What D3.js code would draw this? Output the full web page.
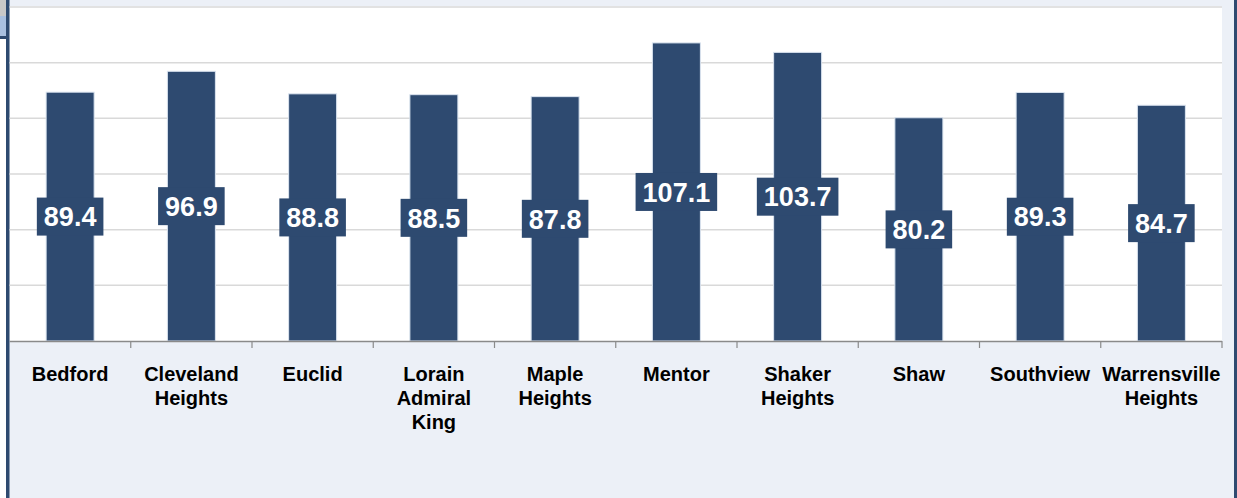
<!DOCTYPE html>
<html>
<head>
<meta charset="utf-8">
<script src="https://cdn.jsdelivr.net/npm/d3@7"></script>
<style>
  body { margin: 0; background: #ecf0f7; }
  svg { display: block; font-family: "Liberation Sans", Arial, sans-serif; }
</style>
</head>
<body>
<div id="chart"></div>
<script>
const categories = [
  ["Bedford"],
  ["Cleveland", "Heights"],
  ["Euclid"],
  ["Lorain", "Admiral", "King"],
  ["Maple", "Heights"],
  ["Mentor"],
  ["Shaker", "Heights"],
  ["Shaw"],
  ["Southview"],
  ["Warrensville", "Heights"]
];
const values = [89.4, 96.9, 88.8, 88.5, 87.8, 107.1, 103.7, 80.2, 89.3, 84.7];
const gridTicks = [0, 20, 40, 60, 80, 100, 120];

const W = 1237, H = 498;
const PLOT = { LEFT: 9.5, RIGHT: 1222, TOP: 7, BOTTOM: 341 };

const svg = d3.select("#chart").append("svg")
  .attr("width", W)
  .attr("height", H);

// outer background
svg.append("rect").attr("width", W).attr("height", H).attr("fill", "#ecf0f7");

// white plot area
svg.append("rect")
  .attr("x", PLOT.LEFT)
  .attr("y", PLOT.TOP - 1)
  .attr("width", PLOT.RIGHT - PLOT.LEFT)
  .attr("height", PLOT.BOTTOM - PLOT.TOP + 1)
  .attr("fill", "#ffffff");

// window chrome bits on the edges
svg.append("rect").attr("x", 0).attr("y", 0).attr("width", 7).attr("height", 16).attr("fill", "#c8c8c8");
svg.append("rect").attr("x", 0).attr("y", 16).attr("width", 7).attr("height", 20).attr("fill", "#a9c0e0");
svg.append("rect").attr("x", 0).attr("y", 36).attr("width", 7).attr("height", 3).attr("fill", "#2e4a70");
svg.append("rect").attr("x", 0).attr("y", 39).attr("width", 6).attr("height", H - 39).attr("fill", "#ffffff");
svg.append("rect").attr("x", 6).attr("y", 0).attr("width", 3.5).attr("height", H).attr("fill", "#2e4a70");
svg.append("rect").attr("x", 1234).attr("y", 0).attr("width", 3).attr("height", H).attr("fill", "#2e4a70");

const xCat = d3.scaleBand()
  .domain(d3.range(categories.length))
  .range([PLOT.LEFT, PLOT.RIGHT]);

const y = d3.scaleLinear()
  .domain([0, 120])
  .range([PLOT.BOTTOM, PLOT.TOP]);

// gridlines
svg.append("g")
  .selectAll("line")
  .data(gridTicks.slice(1))
  .enter()
  .append("line")
  .attr("x1", PLOT.LEFT)
  .attr("x2", PLOT.RIGHT)
  .attr("y1", d => y(d))
  .attr("y2", d => y(d))
  .attr("stroke", "#d9d9d9")
  .attr("stroke-width", 1.5);

// bars
svg.append("g")
  .selectAll("rect")
  .data(values)
  .enter()
  .append("rect")
  .attr("x", (d, i) => xCat(i) + xCat.bandwidth() / 2 - 24)
  .attr("y", d => y(d))
  .attr("width", 48)
  .attr("height", d => PLOT.BOTTOM - y(d))
  .attr("fill", "#2e4a70")
  .attr("stroke", "#dbe4f0")
  .attr("stroke-width", 1);

// x axis
svg.append("line")
  .attr("x1", PLOT.LEFT)
  .attr("x2", PLOT.RIGHT)
  .attr("y1", PLOT.BOTTOM + 0.5)
  .attr("y2", PLOT.BOTTOM + 0.5)
  .attr("stroke", "#8a8a8a")
  .attr("stroke-width", 1.5);

svg.append("g")
  .selectAll("line")
  .data(d3.range(1, categories.length + 1))
  .enter()
  .append("line")
  .attr("x1", i => i < categories.length ? xCat(i) : PLOT.RIGHT)
  .attr("x2", i => i < categories.length ? xCat(i) : PLOT.RIGHT)
  .attr("y1", PLOT.BOTTOM)
  .attr("y2", PLOT.BOTTOM + 7)
  .attr("stroke", "#8a8a8a")
  .attr("stroke-width", 1.2);

// category labels
const labels = svg.append("g")
  .selectAll("text")
  .data(categories)
  .enter()
  .append("text")
  .attr("x", (d, i) => xCat(i) + xCat.bandwidth() / 2)
  .attr("y", 381)
  .attr("text-anchor", "middle")
  .attr("font-size", 20)
  .attr("font-weight", "bold")
  .attr("fill", "#000");

labels.selectAll("tspan")
  .data(d => d)
  .enter()
  .append("tspan")
  .attr("x", function() { return this.parentNode.getAttribute("x"); })
  .attr("dy", (d, i) => i === 0 ? 0 : 24)
  .text(d => d);

// value labels in boxes
const vl = svg.append("g")
  .selectAll("g")
  .data(values)
  .enter()
  .append("g")
  .attr("transform", (d, i) => `translate(${xCat(i) + xCat.bandwidth() / 2}, ${y(d / 2)})`);

vl.append("text")
  .attr("text-anchor", "middle")
  .attr("dy", "0.36em")
  .attr("font-size", 27)
  .attr("font-weight", "bold")
  .attr("fill", "#ffffff")
  .text(d => d.toFixed(1));

vl.each(function() {
  const g = d3.select(this);
  const bb = g.select("text").node().getBBox();
  g.insert("rect", "text")
    .attr("x", bb.x - 7)
    .attr("y", -19)
    .attr("width", bb.width + 14)
    .attr("height", 38)
    .attr("fill", "#2e4a70");
});
</script>
</body>
</html>
